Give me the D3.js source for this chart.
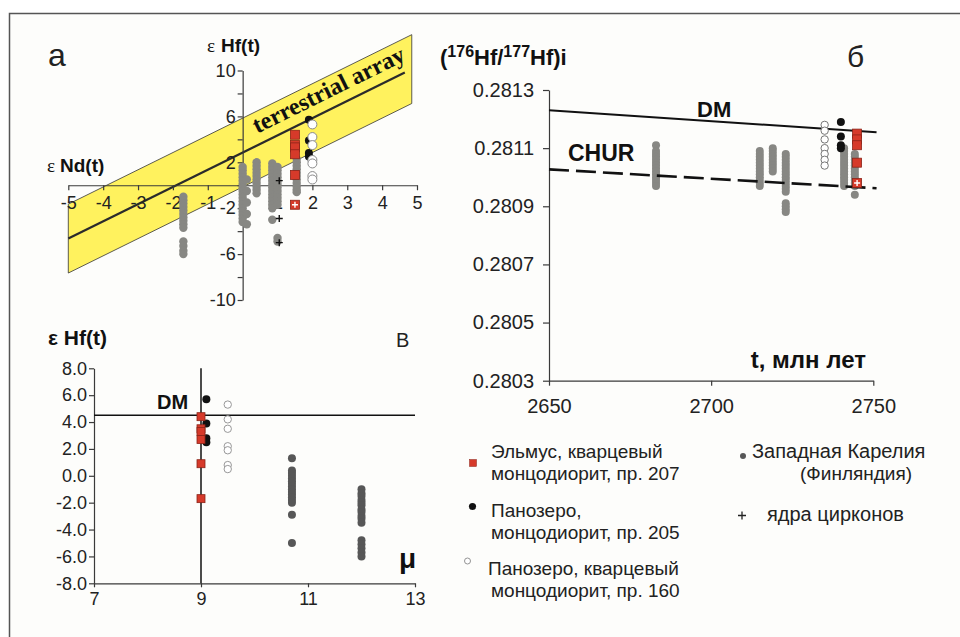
<!DOCTYPE html>
<html>
<head>
<meta charset="utf-8">
<script src="https://cdn.jsdelivr.net/npm/d3@7"></script>
<style>
  html, body { margin: 0; padding: 0; background: #ffffff; }
  svg { display: block; font-family: "Liberation Sans", Arial, sans-serif; }
</style>
</head>
<body>
<svg id="fig" width="960" height="637"></svg>
<script>
// ---------------- data ----------------

// Panel а: εNd(t) – εHf(t)
const ndTicks = [-5, -4, -3, -2, -1, 0, 1, 2, 3, 4, 5];
const hfTicksA = [-10, -8, -6, -4, -2, 0, 2, 4, 6, 8, 10];
const hfLabelsA = [10, 6, 2, -2, -6, -10];
// terrestrial array: εHf = slope·εNd + intercept, band ±halfWidth
const arraySlope = 1.5;
const arrayIntercept = 2.85;
const arrayHalfWidth = 3;
const arrayLineNd = [-5, 4.65];
const arrayBandNd = [-5, 4.85];

// samples (εHf(t) of the zircons, shared by panels а and В)
const elmusHf  = [4.4, 3.5, 3.3, 2.7, 0.9, -1.7];
const pan205Hf = [5.7, 3.9, 2.8, 2.5];
const pan160Hf = [5.3, 4.2, 3.5, 2.2, 1.9, 0.8, 0.5];
const elmusNd = 1.5, pan205Nd = 1.9, pan160Nd = 2.0;
const elmusCoreHf = -1.7;

// Western Karelia (Finland): εNd column → εHf values
const karelNd = [-1.7, 0.0, 0.12, 0.4, 0.85, 1.0, 1.55];
const karelHfA = [
  [-1.0, -1.3, -1.6, -1.9, -2.2, -2.5, -2.8, -3.1, -3.4, -3.7, -4.9, -5.3, -5.7, -6.0],
  [1.6, 1.3, 1.0, 0.7, 0.4, 0.1, -0.2, -0.5, -0.8, -1.1, -1.4, -1.7, -2.0, -2.3, -2.6, -2.9, -3.2],
  [0.5, -0.5, -1.5, -2.5, -3.4],
  [2.0, 1.7, 1.4, 1.1, 0.8, 0.5, 0.2, -0.1, -0.4, -0.7],
  [1.9, 1.6, 1.3, 1.0, 0.7, 0.4, 0.1, -0.2, -0.5, -0.8, -1.1, -1.4, -1.7, -2.0, -3.0],
  [1.6, 1.3, 1.0, 0.7, 0.4, 0.1, -0.2, -0.5, -0.8, -1.1, -1.4, -1.7, -4.6, -4.9],
  [2.3, 2.0, 1.7, 1.4, 1.1, 0.8, 0.5, 0.2, -0.1, -0.4, -0.6]
];
// inherited zircon cores (εNd, εHf)
const coreNdA = [1.05, 1.05, 1.05];
const coreHfA = [0.4, -2.9, -5.0];

// Panel б: age – (176Hf/177Hf)i
const ageTicks = [2650, 2700, 2750];
const ratioTicks = [0.2803, 0.2805, 0.2807, 0.2809, 0.2811, 0.2813];
const dmAge = [2650, 2751];
const dmRatio = [0.28123, 0.281155];
const churAge = [2650, 2751];
const churRatio = [0.281027, 0.280962];
const elmusAge = 2745, pan205Age = 2740, pan160Age = 2735;
const elmusRatio  = [0.28115, 0.28113, 0.28111, 0.28105, 0.28098];
const pan205Ratio = [0.28119, 0.28114, 0.28111, 0.28110];
const pan160Ratio = [0.28118, 0.28116, 0.28113, 0.28110, 0.28108, 0.28106, 0.28104];
const elmusCoreRatio = 0.28098;
const karelAge = [2683, 2715, 2719, 2723, 2741, 2744.3];
const karelRatio = [
  [0.28111, 0.28109, 0.28108, 0.28107, 0.28106, 0.28105, 0.28104, 0.28103, 0.28102, 0.28101, 0.28100, 0.28099, 0.28098, 0.28097],
  [0.28109, 0.28108, 0.28107, 0.28106, 0.28105, 0.28104, 0.28103, 0.28102, 0.28101, 0.28100, 0.28099, 0.28098, 0.28097],
  [0.28110, 0.28109, 0.28108, 0.28107, 0.28106, 0.28105, 0.28104, 0.28103, 0.28102],
  [0.28108, 0.28107, 0.28106, 0.28105, 0.28104, 0.28103, 0.28102, 0.28101, 0.28100, 0.28099, 0.28098, 0.28097, 0.28096, 0.28095, 0.28091, 0.28090, 0.28089, 0.28088],
  [0.28110, 0.28109, 0.28108, 0.28107, 0.28106, 0.28105, 0.28104, 0.28103, 0.28102, 0.28101, 0.28100, 0.28099, 0.28098, 0.28097],
  [0.28108, 0.28107, 0.28106, 0.28105, 0.28104, 0.28103, 0.28102, 0.28101, 0.28100, 0.28099, 0.28098, 0.28097, 0.28094]
];

// Panel В: μ – εHf(t)
const muTicks = [7, 9, 11, 13];
const hfTicksC = [-8, -6, -4, -2, 0, 2, 4, 6, 8];
const dmEpsHf = 4.5;
const mantleMu = 9.0;
const elmusMu = 9.0, pan205Mu = 9.1, pan160Mu = 9.5;
const karelMu = [10.7, 12.0];
const karelHfC = [
  [1.3, 0.4, 0.2, 0.0, -0.2, -0.4, -0.6, -0.8, -1.0, -1.2, -1.4, -1.6, -1.8, -2.0, -2.9, -5.0],
  [-1.0, -1.3, -1.5, -1.8, -2.0, -2.2, -2.5, -2.7, -3.0, -3.2, -3.5, -4.8, -5.1, -5.4, -5.7, -6.0]
];

// legend
const legendLeft = [
  ["Эльмус, кварцевый", "монцодиорит, пр. 207"],
  ["Панозеро,", "монцодиорит, пр. 205"],
  ["Панозеро, кварцевый", "монцодиорит, пр. 160"]
];
const legendRight = [
  ["Западная Карелия", "(Финляндия)"],
  ["ядра цирконов"]
];

// ---------------- drawing ----------------
const RED = "#d63a2a", RED_EDGE = "#8a2418";
const GREY = "#878783", GREY_DARK = "#575757";
const YELLOW = "#fff25e";
const AXIS = "#3a3a3a";

const svg = d3.select("#fig");

// page frame
svg.append("rect").attr("x", 9.5).attr("y", 13.5).attr("width", 960).attr("height", 640)
  .attr("fill", "#fdfdfb");
svg.append("path").attr("d", "M9.5,637 V13.5 H960")
  .attr("fill", "none").attr("stroke", "#555").attr("stroke-width", 1.5);

function styleAxis(g, fontSize) {
  g.attr("font-size", null).attr("font-family", null);
  g.selectAll("path.domain").attr("stroke", AXIS).attr("stroke-width", 1.2);
  g.selectAll(".tick line").attr("stroke", AXIS).attr("stroke-width", 1.2);
  g.selectAll(".tick text").attr("fill", "#222").style("font-size", fontSize + "px");
}

function squares(g, pts, size) {
  g.selectAll(null).data(pts).join("rect")
    .attr("x", d => d[0] - size / 2).attr("y", d => d[1] - size / 2)
    .attr("width", size).attr("height", size)
    .attr("fill", RED).attr("stroke", RED_EDGE).attr("stroke-width", 0.8);
}
function dots(g, pts, r, fill, stroke) {
  g.selectAll(null).data(pts).join("circle")
    .attr("cx", d => d[0]).attr("cy", d => d[1]).attr("r", r)
    .attr("fill", fill).attr("stroke", stroke || "none").attr("stroke-width", 1);
}
function crosses(g, pts, s, color) {
  g.selectAll(null).data(pts).join("path")
    .attr("d", d => `M${d[0] - s},${d[1]}H${d[0] + s}M${d[0]},${d[1] - s}V${d[1] + s}`)
    .attr("stroke", color).attr("stroke-width", 1.4).attr("fill", "none");
}

// ===== Panel а =====
{
  const x = d3.scaleLinear().domain([-5, 5]).range([68.3, 417]);
  const y = d3.scaleLinear().domain([-10, 10]).range([300, 70.5]);
  const g = svg.append("g");
  const arr = nd => arraySlope * nd + arrayIntercept;

  // band
  const [b0, b1] = arrayBandNd;
  const band = [[b0, arr(b0) + arrayHalfWidth], [b1, arr(b1) + arrayHalfWidth],
                [b1, arr(b1) - arrayHalfWidth], [b0, arr(b0) - arrayHalfWidth]];
  g.append("path")
    .attr("d", d3.line().x(d => x(d[0])).y(d => y(d[1]))(band) + "Z")
    .attr("fill", YELLOW).attr("stroke", "#333").attr("stroke-width", 0.8);
  g.append("path")
    .attr("d", d3.line().x(d => x(d)).y(d => y(arr(d)))(arrayLineNd))
    .attr("stroke", "#2b2b2b").attr("stroke-width", 2.2).attr("fill", "none");

  // rotated label along the array
  const ang = Math.atan2(y(arr(1)) - y(arr(0)), x(1) - x(0)) * 180 / Math.PI;
  const lNd = 0.55;
  g.append("text")
    .attr("transform", `translate(${x(lNd)},${y(arr(lNd))}) rotate(${ang}) translate(0,-10.5)`)
    .attr("font-family", "'Liberation Serif','Times New Roman',serif")
    .attr("font-weight", "bold").attr("font-size", 24).attr("fill", "#111")
    .text("terrestrial array");

  // axes
  const ax = g.append("g").attr("transform", `translate(0,${y(0)})`)
    .call(d3.axisBottom(x).tickValues(ndTicks).tickSize(5).tickSizeOuter(0).tickPadding(6)
      .tickFormat(d => d === 0 ? "" : String(d)));
  styleAxis(ax, 18);
  const ay = g.append("g").attr("transform", `translate(${x(0)},0)`)
    .call(d3.axisLeft(y).tickValues(hfTicksA).tickSize(5).tickSizeOuter(0).tickPadding(2)
      .tickFormat(d => hfLabelsA.includes(d) ? String(d) : ""));
  styleAxis(ay, 18);

  // Western Karelia
  const kp = [];
  karelNd.forEach((nd, i) => karelHfA[i].forEach(h => kp.push([x(nd), y(h)])));
  dots(g, kp, 4.2, GREY);
  crosses(g, coreNdA.map((nd, i) => [x(nd), y(coreHfA[i])]), 3.5, "#111");

  squares(g, elmusHf.map(h => [x(elmusNd), y(h)]), 9);
  crosses(g, [[x(elmusNd), y(elmusCoreHf)]], 3, "#fff");
  dots(g, pan205Hf.map(h => [x(pan205Nd), y(h)]), 4, "#111");
  dots(g, pan160Hf.map(h => [x(pan160Nd), y(h)]), 4.5, "#fff", "#8a8a8a");

  // titles
  svg.append("text").attr("x", 48).attr("y", 66).attr("font-size", 32).attr("fill", "#222").text("a");
  const t1 = svg.append("text").attr("x", 207).attr("y", 52).attr("font-size", 19).attr("fill", "#111");
  t1.append("tspan").attr("font-family", "'Liberation Serif',serif").text("ε");
  t1.append("tspan").attr("x", 221).attr("font-weight", "bold").text("Hf(t)");
  const t2 = svg.append("text").attr("x", 47).attr("y", 172).attr("font-size", 19).attr("fill", "#111");
  t2.append("tspan").attr("font-family", "'Liberation Serif',serif").text("ε");
  t2.append("tspan").attr("x", 60).attr("font-weight", "bold").text("Nd(t)");
}

// ===== Panel б =====
{
  const x = d3.scaleLinear().domain([2650, 2750]).range([549, 873.3]);
  const y = d3.scaleLinear().domain([0.2803, 0.2813]).range([380.7, 90]);
  const g = svg.append("g");

  const ax = g.append("g").attr("transform", `translate(0,${y(0.2803)})`)
    .call(d3.axisBottom(x).tickValues(ageTicks).tickSize(5).tickSizeOuter(0).tickPadding(13)
      .tickFormat(d => String(d)));
  styleAxis(ax, 20);
  const ay = g.append("g").attr("transform", `translate(${x(2650)},0)`)
    .call(d3.axisLeft(y).tickValues(ratioTicks).tickSize(6).tickSizeOuter(0).tickPadding(9)
      .tickFormat(d => d.toFixed(4)));
  styleAxis(ay, 20);

  const ln = d3.line().x(d => x(d[0])).y(d => y(d[1]));
  g.append("path").attr("d", ln(dmAge.map((a, i) => [a, dmRatio[i]])))
    .attr("stroke", "#111").attr("stroke-width", 2).attr("fill", "none");

  const kp = [];
  karelAge.forEach((a, i) => karelRatio[i].forEach(r => kp.push([x(a), y(r)])));
  dots(g, kp, 4, GREY);

  g.append("path").attr("d", ln(churAge.map((a, i) => [a, churRatio[i]])))
    .attr("stroke", "#111").attr("stroke-width", 2.6).attr("fill", "none")
    .attr("stroke-dasharray", "20,7");

  dots(g, pan160Ratio.map(r => [x(pan160Age), y(r)]), 3.7, "#fff", "#777");
  dots(g, pan205Ratio.map(r => [x(pan205Age), y(r)]), 4, "#111");
  squares(g, elmusRatio.map(r => [x(elmusAge), y(r)]), 9);
  crosses(g, [[x(elmusAge), y(elmusCoreRatio)]], 3, "#fff");

  g.append("text").attr("x", 697).attr("y", 117).attr("font-size", 22).attr("font-weight", "bold")
    .attr("fill", "#111").text("DM");
  g.append("text").attr("x", 568).attr("y", 161).attr("font-size", 23).attr("font-weight", "bold")
    .attr("fill", "#111").text("CHUR");
  g.append("text").attr("x", 866).attr("y", 368).attr("text-anchor", "end").attr("font-size", 24)
    .attr("font-weight", "bold").attr("fill", "#111").text("t, млн лет");

  const tt = g.append("text").attr("x", 440).attr("y", 65).attr("font-size", 22)
    .attr("font-weight", "bold").attr("fill", "#111");
  tt.append("tspan").text("(");
  tt.append("tspan").attr("font-size", 16).attr("dy", -8).text("176");
  tt.append("tspan").attr("dy", 8).text("Hf/");
  tt.append("tspan").attr("font-size", 16).attr("dy", -8).text("177");
  tt.append("tspan").attr("dy", 8).text("Hf)i");

  g.append("text").attr("x", 847).attr("y", 67).attr("font-size", 30).attr("fill", "#222").text("б");
}

// ===== Panel В =====
{
  const x = d3.scaleLinear().domain([7, 13]).range([94, 415]);
  const y = d3.scaleLinear().domain([-8, 8]).range([583.3, 368.3]);
  const g = svg.append("g");

  const ax = g.append("g").attr("transform", `translate(0,${y(-8)})`)
    .call(d3.axisBottom(x).tickValues(muTicks).tickSize(4).tickSizeOuter(0).tickPadding(5)
      .tickFormat(d => String(d)));
  styleAxis(ax, 18);
  const ay = g.append("g").attr("transform", `translate(${x(7)},0)`)
    .call(d3.axisLeft(y).tickValues(hfTicksC).tickSize(5).tickSizeOuter(0).tickPadding(2)
      .tickFormat(d => d.toFixed(1)));
  styleAxis(ay, 18);

  g.append("line").attr("x1", x(7)).attr("x2", x(13)).attr("y1", y(dmEpsHf)).attr("y2", y(dmEpsHf))
    .attr("stroke", "#111").attr("stroke-width", 1.5);
  g.append("line").attr("x1", x(mantleMu)).attr("x2", x(mantleMu)).attr("y1", y(-8)).attr("y2", y(8))
    .attr("stroke", "#111").attr("stroke-width", 1.5);

  const kp = [];
  karelMu.forEach((m, i) => karelHfC[i].forEach(h => kp.push([x(m), y(h)])));
  dots(g, kp, 4, GREY_DARK);
  dots(g, pan160Hf.map(h => [x(pan160Mu), y(h)]), 3.7, "#fff", "#999");
  dots(g, pan205Hf.map(h => [x(pan205Mu), y(h)]), 4, "#111");
  squares(g, elmusHf.map(h => [x(elmusMu), y(h)]), 8);

  g.append("text").attr("x", 157).attr("y", 409).attr("font-size", 20).attr("font-weight", "bold")
    .attr("fill", "#111").text("DM");
  g.append("text").attr("x", 399).attr("y", 568).attr("font-size", 28).attr("font-weight", "bold")
    .attr("fill", "#111").text("μ");
  g.append("text").attr("x", 48).attr("y", 345).attr("font-size", 21).attr("font-weight", "bold")
    .attr("fill", "#111").text("ε Hf(t)");
  g.append("text").attr("x", 396).attr("y", 347).attr("font-size", 20).attr("fill", "#222").text("В");
}

// ===== Legend =====
{
  const g = svg.append("g").attr("font-size", 19).attr("fill", "#222");
  const rowsY = [458, 517, 575];
  const lineGap = 21.5;
  legendLeft.forEach((lines, i) => {
    const t = g.append("text").attr("y", rowsY[i]);
    lines.forEach((s, j) => t.append("tspan").attr("x", 491 - (i === 2 && j === 0 ? 3 : 0))
      .attr("dy", j === 0 ? 0 : lineGap).text(s));
  });
  g.append("rect").attr("x", 469.5).attr("y", 459.5).attr("width", 7).attr("height", 7)
    .attr("fill", RED).attr("stroke", RED_EDGE).attr("stroke-width", 0.5);
  g.append("circle").attr("cx", 472.5).attr("cy", 506.5).attr("r", 3.6).attr("fill", "#111");
  g.append("circle").attr("cx", 467.5).attr("cy", 561).attr("r", 3).attr("fill", "#fff")
    .attr("stroke", "#888").attr("stroke-width", 0.9);

  const t1 = g.append("text").attr("y", 458);
  t1.append("tspan").attr("x", 752).attr("font-size", 20).text(legendRight[0][0]);
  t1.append("tspan").attr("x", 800).attr("dy", lineGap).text(legendRight[0][1]);
  g.append("circle").attr("cx", 743).attr("cy", 456).attr("r", 3).attr("fill", GREY_DARK);
  g.append("text").attr("x", 767).attr("y", 521).attr("font-size", 20).text(legendRight[1][0]);
  g.append("path").attr("d", "M738,515.5H746M742,511.5V519.5").attr("stroke", "#222").attr("stroke-width", 1.3);
}
</script>
</body>
</html>
